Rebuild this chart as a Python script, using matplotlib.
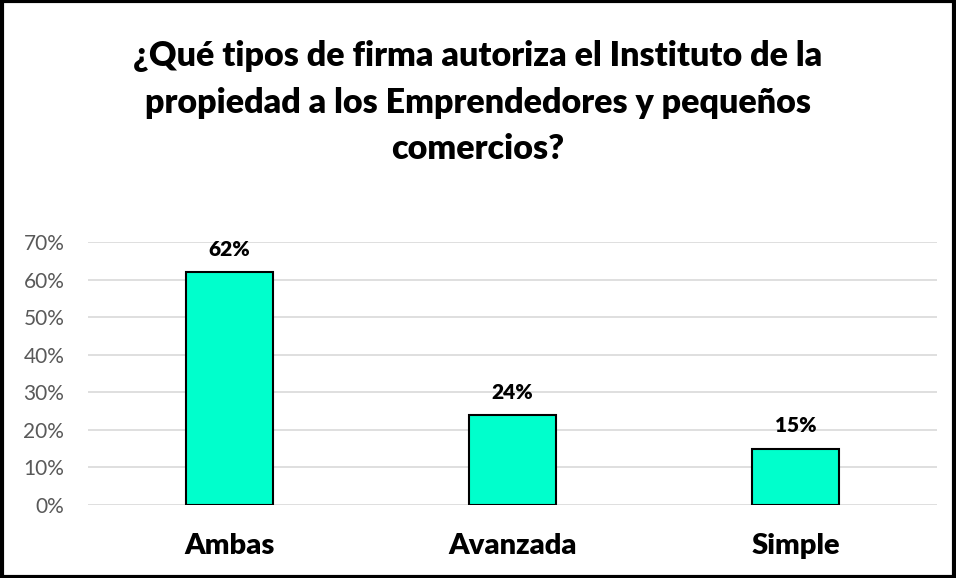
import matplotlib
matplotlib.use('Agg')
import matplotlib.pyplot as plt
from matplotlib.patches import Rectangle
from matplotlib.ticker import FuncFormatter

categories = ['Ambas', 'Avanzada', 'Simple']
values = [62, 24, 15]
title = '¿Qué tipos de firma autoriza el Instituto de la\npropiedad a los Emprendedores y pequeños\ncomercios?'

plt.rcParams['font.family'] = ['Lato', 'DejaVu Sans']

fig = plt.figure(figsize=(9.56, 5.78), dpi=100)
ax = fig.add_axes([0.092, 0.1263, 0.888, 0.455])

ax.bar(range(len(categories)), values, width=0.31, color='#00FFCC',
       edgecolor='black', linewidth=1.5, zorder=3)
for i, v in enumerate(values):
  ax.text(i, v + 3.5, f'{v}%', ha='center', va='bottom', fontsize=15,
          fontweight='heavy', color='black')

ax.set_xlim(-0.5, len(categories) - 0.5)
ax.set_ylim(0, 70)
ax.set_yticks(range(0, 71, 10))
ax.yaxis.set_major_formatter(FuncFormatter(lambda v, p: f'{v:.0f}%'))
ax.set_xticks(range(len(categories)))
ax.set_xticklabels(categories, fontsize=21, fontweight='heavy')
ax.tick_params(axis='x', length=0, pad=20)
ax.tick_params(axis='y', length=0, pad=17, labelsize=15, labelcolor='#595959')
ax.grid(axis='y', color='#d9d9d9', linewidth=1.2, zorder=0)
for s in ax.spines.values():
  s.set_visible(False)

fig.text(0.5, 0.93, title, ha='center', va='top', fontsize=24.5,
         fontweight='heavy', linespacing=1.55)

fig.patches.append(Rectangle((0.002, 0.002), 0.996, 0.996, transform=fig.transFigure,
                             fill=False, edgecolor='black', linewidth=3))

fig.savefig('out.png', dpi=100)
